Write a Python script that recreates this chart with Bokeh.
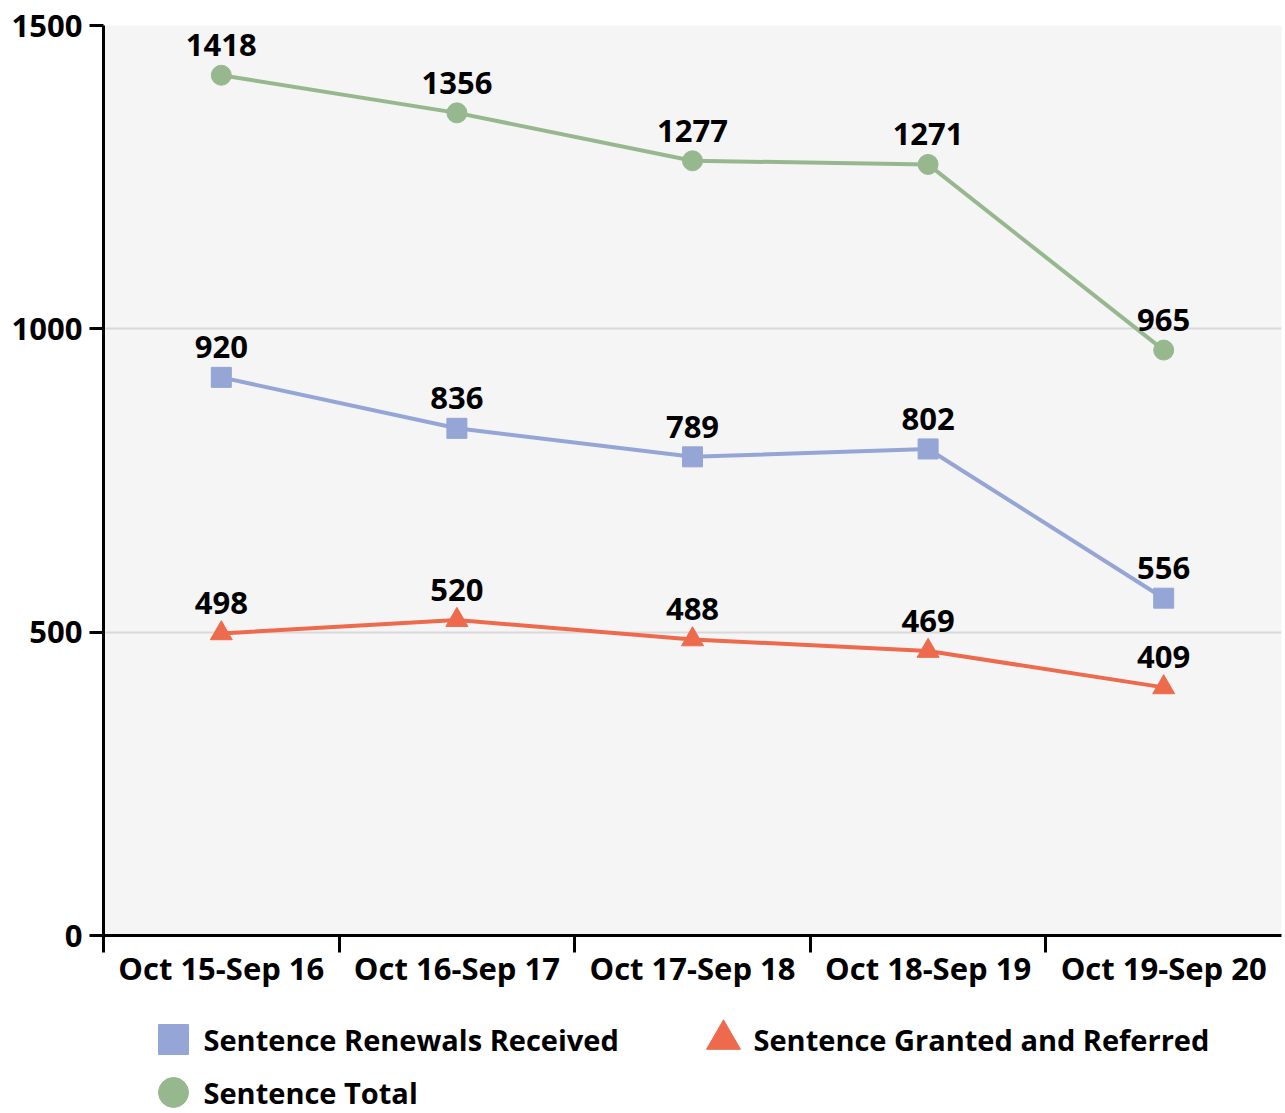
from bokeh.plotting import figure
from bokeh.models import Range1d, FixedTicker, ColumnDataSource
from bokeh.layouts import column
from bokeh.embed import file_html
from bokeh.resources import INLINE
from bokeh.core.properties import value

categories = ["Oct 15-Sep 16", "Oct 16-Sep 17", "Oct 17-Sep 18", "Oct 18-Sep 19", "Oct 19-Sep 20"]
renewals = [920, 836, 789, 802, 556]
granted = [498, 520, 488, 469, 409]
total = [1418, 1356, 1277, 1271, 965]
series_names = ["Sentence Renewals Received", "Sentence Granted and Referred", "Sentence Total"]

FONT = "Open Sans"
C_BLUE = "#95A5D5"
C_ORANGE = "#EE6A4C"
C_GREEN = "#97B88F"

xs = list(range(len(categories)))

LEFT, RIGHT = 103, 4

p = figure(width=1285, height=1005, output_backend="svg", toolbar_location=None,
           x_range=Range1d(-0.5, len(categories) - 0.5), y_range=Range1d(0, 1500),
           min_border_left=LEFT, min_border_right=RIGHT, min_border_top=25, min_border_bottom=70)
p.border_fill_color = "white"
p.outline_line_color = None
p.background_fill_color = "#F5F5F5"

# axes: category separators as minor ticks (no separator at the right end)
p.xaxis.ticker = FixedTicker(ticks=xs, minor_ticks=[i - 0.5 for i in range(len(categories))])
p.xaxis.major_label_overrides = {i: c for i, c in enumerate(categories)}
p.xaxis.major_tick_out = 0
p.xaxis.major_tick_in = 0
p.xaxis.minor_tick_out = 17
p.xaxis.minor_tick_in = 0
p.xaxis.minor_tick_line_color = "black"
p.xaxis.minor_tick_line_width = 3
p.xaxis.axis_line_width = 3
p.xaxis.axis_line_color = "black"
p.xaxis.major_label_text_font = FONT
p.xaxis.major_label_text_font_style = "bold"
p.xaxis.major_label_text_font_size = "31px"
p.xaxis.major_label_text_color = "black"
p.xaxis.major_label_standoff = -6

p.yaxis.ticker = FixedTicker(ticks=[0, 500, 1000, 1500])
p.yaxis.major_tick_out = 14
p.yaxis.major_tick_in = 0
p.yaxis.major_tick_line_width = 3
p.yaxis.minor_tick_line_color = None
p.yaxis.axis_line_width = 3
p.yaxis.axis_line_color = "black"
p.yaxis.major_label_text_font = FONT
p.yaxis.major_label_text_font_style = "bold"
p.yaxis.major_label_text_font_size = "31px"
p.yaxis.major_label_text_color = "black"
p.yaxis.major_label_standoff = 7

p.xgrid.grid_line_color = None
p.ygrid.ticker = FixedTicker(ticks=[500, 1000, 1500])
p.ygrid.grid_line_color = "#D9D9D9"
p.ygrid.grid_line_width = 2

series = [
    (renewals, C_BLUE, "square"),
    (granted, C_ORANGE, "triangle"),
    (total, C_GREEN, "circle"),
]
for vals, col, marker in series:
    src = ColumnDataSource(dict(x=xs, y=vals, t=[str(v) for v in vals]))
    p.line("x", "y", source=src, line_color=col, line_width=4)
    p.scatter("x", "y", source=src, marker=marker, size=20 if marker != "triangle" else 22,
              fill_color=col, line_color=col)
    p.text("x", "y", text="t", source=src, text_font=value(FONT), text_font_style="bold",
           text_font_size="31px", text_color="black", text_align="center",
           text_baseline="middle", y_offset=-30)

# legend drawn as separate strip, frame aligned with main plot's frame
leg = figure(width=1285, height=108, output_backend="svg", toolbar_location=None,
             x_range=Range1d(LEFT, 1285 - RIGHT), y_range=Range1d(108, 0),
             min_border=0, min_border_left=LEFT, min_border_right=RIGHT,
             min_border_top=0, min_border_bottom=0)
leg.axis.visible = False
leg.grid.visible = False
leg.outline_line_color = None
leg.background_fill_color = "white"
leg.border_fill_color = "white"

leg_x = [173, 723, 173]
leg_y = [34, 34, 87]
leg_markers = ["square", "triangle", "circle"]
leg_colors = [C_BLUE, C_ORANGE, C_GREEN]
leg_sizes = [30, 34, 30]
for i in range(3):
    leg.scatter([leg_x[i]], [leg_y[i]], marker=leg_markers[i], size=leg_sizes[i],
                fill_color=leg_colors[i], line_color=leg_colors[i])
    leg.text([leg_x[i] + 30], [leg_y[i]], text=[series_names[i]], text_font=value(FONT),
             text_font_style="bold", text_font_size="29px", text_color="black",
             text_baseline="middle", text_align="left")

layout = column(p, leg, spacing=0)
open("out.html", "w").write(file_html(layout, INLINE))
